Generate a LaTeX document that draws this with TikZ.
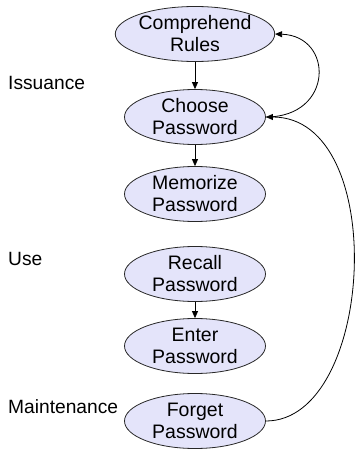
\documentclass[tikz,border=0pt]{standalone}
\usepackage{fontspec}
\setmainfont{Liberation Sans}
\usetikzlibrary{shapes.geometric,arrows.meta}
\definecolor{nodefill}{RGB}{228,228,250}
\definecolor{nodeline}{RGB}{40,40,40}
\tikzset{
  stepnode/.style={ellipse, draw=nodeline, line width=0.8pt, fill=nodefill,
    minimum width=141pt, minimum height=55pt, inner sep=0pt, align=center,
    font=\fontsize{19.5}{22}\selectfont},
  phaselabel/.style={anchor=base west, inner sep=0pt, font=\fontsize{19.2}{22}\selectfont},
  conn/.style={draw=black, line width=0.8pt, -{Triangle[length=7pt,width=6pt]}}
}
\begin{document}
\begin{tikzpicture}[x=1pt,y=1pt]
\useasboundingbox (0,0) rectangle (354,-450);
\node[stepnode] (comp) at (195,-34) {Comprehend\\Rules};
\node[stepnode] (choose) at (195,-117) {Choose\\Password};
\node[stepnode] (memo) at (195,-194) {Memorize\\Password};
\node[stepnode] (recall) at (195,-274) {Recall\\Password};
\node[stepnode] (enter) at (195,-346) {Enter\\Password};
\node[stepnode] (forget) at (195,-421) {Forget\\Password};
\node[phaselabel] (iss) at (8,-89) {Issuance};
\node[phaselabel] (use) at (8,-265) {Use};
\node[phaselabel] (maint) at (8,-413) {Maintenance};
\draw[conn] (comp) -- (choose);
\draw[conn] (choose) -- (memo);
\draw[conn] (recall) -- (enter);
\draw[conn] (choose.east) .. controls (334,-117) and (334,-36) .. (comp.east);
\draw[conn] (forget.east) .. controls (375,-421) and (390,-117) .. (choose.east);
\end{tikzpicture}
\end{document}
